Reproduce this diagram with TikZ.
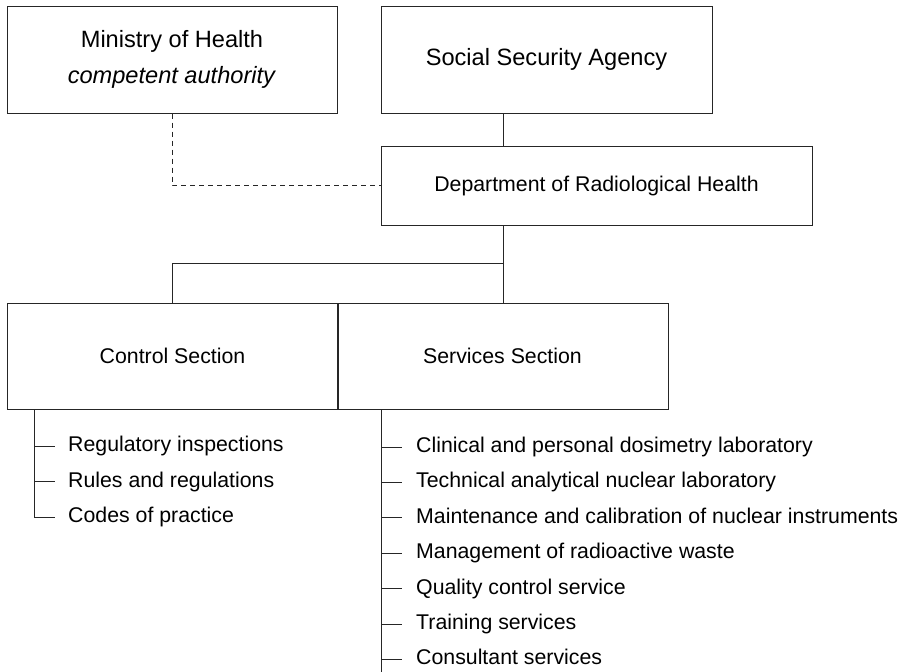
\documentclass[tikz,border=0pt]{standalone}
\usepackage{fontspec}
\setmainfont{Liberation Sans}
\usetikzlibrary{calc}

\tikzset{
    unitbox/.style={draw=black!85, line width=1pt, align=center, inner sep=0pt},
    bigtext/.style={font=\fontsize{23.6}{36}\selectfont},
    smalltext/.style={font=\fontsize{21.3}{25}\selectfont},
    listitem/.style={anchor=west, inner sep=0pt, text height=15pt, text depth=4pt, font=\fontsize{21.3}{25}\selectfont},
    link/.style={draw=black!85, line width=1pt},
}

\begin{document}
\begin{tikzpicture}[line cap=butt,line join=miter,x=1pt,y=-1pt]
    \useasboundingbox (0,0) rectangle (905,672);

    % top level
    \node[unitbox, bigtext, minimum width=330pt, minimum height=107pt] (ministry) at (172,59.5) {Ministry of Health\\\textit{competent authority}};
    \node[unitbox, bigtext, minimum width=331pt, minimum height=107pt] (ssa) at (546.5,59.5) {Social Security Agency};

    % department
    \node[unitbox, smalltext, minimum width=431pt, minimum height=79pt] (dept) at (596.5,185.5) {Department of Radiological Health};

    % sections
    \node[unitbox, smalltext, minimum width=331pt, minimum height=106pt] (control) at (172.5,356) {Control Section};
    \node[unitbox, smalltext, minimum width=331pt, minimum height=106pt] (services) at (502.5,356) {Services Section};

    \coordinate (split) at (503,263);
    \coordinate (cbar) at (34,409);
    \coordinate (sbar) at (381,409);
    \coordinate (send) at (381,672);

    \draw[link] (ssa.south -| split) -- (dept.north -| split);
    \draw[link, dash pattern=on 5pt off 4pt] (ministry.south) |- (dept.west);
    \draw[link] (dept.south -| split) -- (split) -| (control.north);
    \draw[link] (split) -- (services.north -| split);

    % control list
    \foreach \txt [count=\i] in {Regulatory inspections, Rules and regulations, Codes of practice}
        \node[listitem] (ctl\i) at (68,{446+35.5*(\i-1)}) {\txt};
    \draw[link] (cbar) |- ([xshift=-13pt]ctl3.west);
    \foreach \i in {1,2}
        \draw[link] (cbar |- ctl\i.west) -- ([xshift=-13pt]ctl\i.west);

    % services list
    \foreach \txt [count=\i] in {Clinical and personal dosimetry laboratory, Technical analytical nuclear laboratory, Maintenance and calibration of nuclear instruments, Management of radioactive waste, Quality control service, Training services, Consultant services}
        \node[listitem] (srv\i) at (416,{447+35.4*(\i-1)}) {\txt};
    \draw[link] (sbar) -- (send);
    \foreach \i in {1,...,7}
        \draw[link] (sbar |- srv\i.west) -- ([xshift=-14pt]srv\i.west);

\end{tikzpicture}
\end{document}
